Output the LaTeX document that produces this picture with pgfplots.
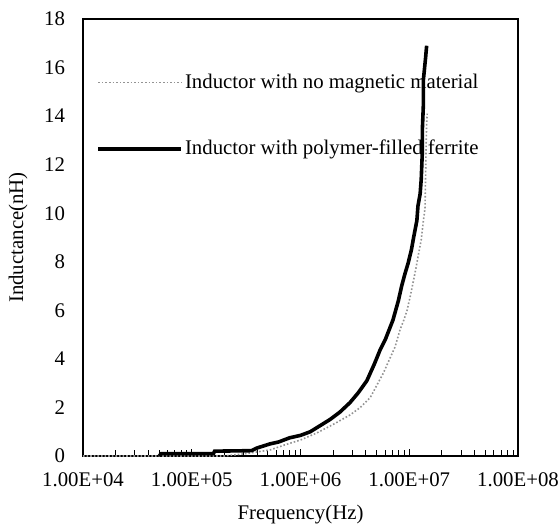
\documentclass[border=0pt]{standalone}
\usepackage{pgfplots}
\pgfplotsset{compat=1.18}
\usepackage{fontspec}
\setmainfont{Liberation Serif}
\begin{document}
\begin{tikzpicture}[font=\fontsize{10.4}{12.5}\selectfont]
\useasboundingbox (-41.5pt,-35pt) rectangle (238.5pt,228pt);
\begin{axis}[
  at={(0pt,0pt)}, anchor=south west,
  scale only axis,
  width=217.5pt, height=218.5pt,
  xmode=log, log basis x=10,
  xmin=1e4, xmax=1e8, ymin=0, ymax=18,
  xtick={1e4,1e5,1e6,1e7,1e8},
  xticklabels={1.00E+04,1.00E+05,1.00E+06,1.00E+07,1.00E+08},
  minor xtick={2e4,3e4,4e4,5e4,6e4,7e4,8e4,9e4,
               2e5,3e5,4e5,5e5,6e5,7e5,8e5,9e5,
               2e6,3e6,4e6,5e6,6e6,7e6,8e6,9e6,
               2e7,3e7,4e7,5e7,6e7,7e7,8e7,9e7},
  ytick={0,2,4,6,8,10,12,14,16,18},
  /pgf/number format/assume math mode=true,
  axis line style={line width=1.2pt},
  tick align=inside,
  xtick pos=bottom,
  ytick style={draw=none},
  major tick length=3.5pt, minor tick length=3pt,
  xtick style={line width=0.5pt, black},
  minor x tick style={line width=0.5pt, black},
  xticklabel style={yshift=-5pt},
  yticklabel style={xshift=-5.5pt},
  xlabel={Frequency(Hz)},
  ylabel={Inductance(nH)},
  every axis x label/.style={at={(axis description cs:0.5,-0.135)}, anchor=center},
  every axis y label/.style={at={(axis description cs:-0.149,0.5)}, rotate=90, anchor=center},
  legend style={draw=none, fill=none, inner sep=0pt, row sep=22.5pt,
     at={(axis description cs:0.03,0.88)}, anchor=north west,
     nodes={inner sep=1pt}},
  legend cell align=left,
  legend image code/.code={\draw[#1] (0pt,0pt) -- (41.5pt,0pt);},
]
\addplot[gray!85, line width=0.8pt, densely dotted] coordinates {
(1e4,0.0) (199526,0.0) (316228,0.1) (524807,0.25) (707946,0.45)
(1.0e6,0.66) (1.4125e6,0.95) (1.9953e6,1.3) (2.8510e6,1.69) (3.5481e6,2.0)
(4.3652e6,2.4) (5.0119e6,2.9) (5.7544e6,3.4) (6.6069e6,4.0) (7.4131e6,4.5)
(8.2224e6,5.2) (8.9125e6,5.6) (9.5499e6,6.0) (1.0233e7,6.6) (1.0965e7,7.25)
(1.1482e7,7.7) (1.2023e7,8.2) (1.2882e7,8.9) (1.3490e7,9.7) (1.3964e7,10.2)
(1.4125e7,11.5) (1.4289e7,12.8) (1.4454e7,13.7) (1.4622e7,14.1)
};
\addlegendentry{Inductor with no magnetic material}
\addplot[black, line width=1.8pt] coordinates {
(50119,0.0) (52481,0.1) (158489,0.1) (162181,0.2) (354813,0.22)
(398107,0.33) (524807,0.5) (630957,0.58) (794328,0.75) (1.0e6,0.85)
(1.2303e6,1.0) (1.5136e6,1.25) (1.8621e6,1.5) (2.2909e6,1.8) (2.8510e6,2.2)
(3.3884e6,2.6) (4.0738e6,3.1) (4.7863e6,3.8) (5.3703e6,4.35) (6.0256e6,4.8)
(7.0795e6,5.6) (7.9433e6,6.4) (8.5114e6,7.0) (9.1201e6,7.5) (9.7724e6,7.95)
(1.0471e7,8.5) (1.0965e7,9.0) (1.1749e7,9.7) (1.2023e7,10.3) (1.2589e7,10.8)
(1.2882e7,11.4) (1.3183e7,12.5) (1.3183e7,13.4) (1.3490e7,14.5) (1.3490e7,15.5)
(1.4125e7,16.4) (1.4454e7,16.9)
};
\addlegendentry{Inductor with polymer-filled ferrite}
\end{axis}
\end{tikzpicture}
\end{document}
